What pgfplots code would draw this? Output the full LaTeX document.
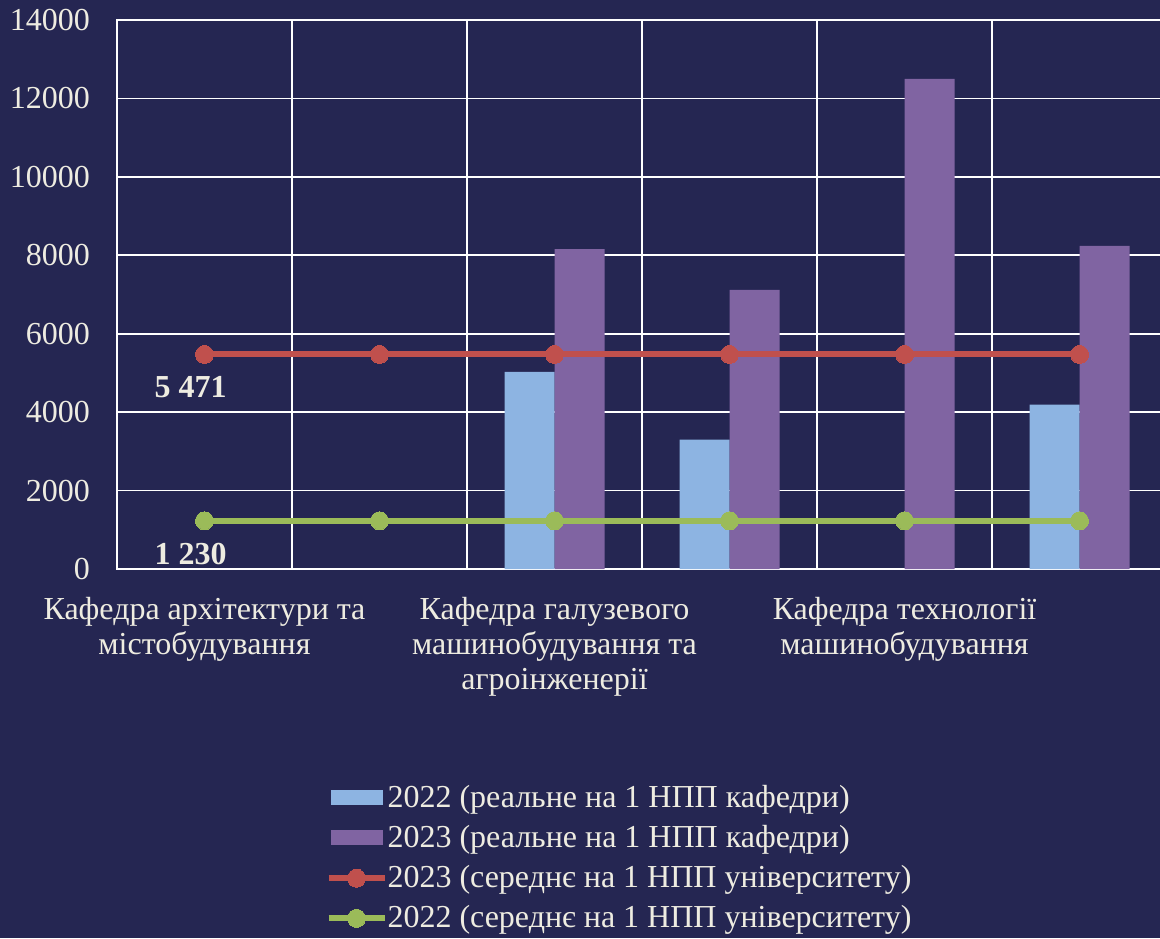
\documentclass[border=0pt]{standalone}
\usepackage{pgfplots}
\pgfplotsset{compat=1.18}
\usepackage{fontspec}
\setmainfont{Liberation Serif}
\definecolor{bg}{RGB}{37,38,82}
\definecolor{txt}{RGB}{238,236,225}
\definecolor{c22}{RGB}{141,180,226}
\definecolor{c23}{RGB}{128,100,162}
\definecolor{cred}{RGB}{192,80,77}
\definecolor{cgreen}{RGB}{155,187,89}
\pgfplotsset{
  barleg/.style={legend image code/.code={\fill[##1] (0pt,-3.75pt) rectangle (26pt,3.75pt);}},
  lineleg/.style={legend image code/.code={\draw[mark repeat=2, mark phase=2, ##1] plot coordinates {(-1pt,0pt) (13pt,0pt) (27pt,0pt)};}},
}
\begin{document}
\begin{tikzpicture}[x=1pt,y=1pt]
\fill[bg] (0,0) rectangle (580,469);
\begin{axis}[
  at={(58.5pt,184.5pt)}, anchor=south west,
  scale only axis, width=525pt, height=274.5pt,
  xmin=-0.5, xmax=5.5, ymin=0, ymax=14000,
  ytick={0,2000,...,14000},
  scaled y ticks=false,
  xtick={0,2,4},
  xticklabels={{Кафедра архітектури та\\містобудування},{Кафедра галузевого\\машинобудування та\\агроінженерії},{Кафедра технології\\машинобудування}},
  minor xtick={0.5,1.5,2.5,3.5,4.5},
  xminorgrids=true, ymajorgrids=true,
  grid style={white, line width=0.8pt},
  minor grid style={white, line width=0.8pt},
  axis line style={white, line width=0.8pt},
  major tick length=0pt, minor tick length=0pt,
  tick style={draw=none},
  ticklabel style={text=txt, font=\fontsize{16}{17.5}\selectfont},
  /pgf/number format/1000 sep={},
  /pgf/number format/assume math mode=true,
  yticklabel style={xshift=-10pt},
  xticklabel style={align=center, yshift=-10.5pt},
  legend style={draw=none, fill=none, at={(0.1925,-0.382)}, anchor=north west,
    font=\fontsize{16}{17.5}\selectfont, text=txt, row sep=5.5pt,
    nodes={inner xsep=0pt, inner ysep=1pt}},
  legend cell align=left,
]
\addplot[ybar, bar width=25pt, bar shift=-12.5pt, fill=c22, draw=none, barleg]
  coordinates {(2,5030) (3,3300) (5,4190)};
\addlegendentry{2022 (реальне на 1 НПП кафедри)}
\addplot[ybar, bar width=25pt, bar shift=12.5pt, fill=c23, draw=none, barleg]
  coordinates {(2,8160) (3,7120) (4,12500) (5,8240)};
\addlegendentry{2023 (реальне на 1 НПП кафедри)}
\addplot[cred, line width=3pt, mark=*, mark size=4.5pt, mark options={fill=cred, draw=cred, line width=0pt},
  point meta=explicit symbolic, nodes near coords,
  nodes near coords style={anchor=center, xshift=-7pt, yshift=-16.5pt, text=txt, font=\fontsize{16}{17.5}\selectfont\bfseries},
  lineleg]
  coordinates {(0,5471)[5 471] (1,5471)[] (2,5471)[] (3,5471)[] (4,5471)[] (5,5471)[]};
\addlegendentry{2023 (середнє на 1 НПП університету)}
\addplot[cgreen, line width=3pt, mark=*, mark size=4.5pt, mark options={fill=cgreen, draw=cgreen, line width=0pt},
  point meta=explicit symbolic, nodes near coords,
  nodes near coords style={anchor=center, xshift=-7pt, yshift=-16.5pt, text=txt, font=\fontsize{16}{17.5}\selectfont\bfseries},
  lineleg]
  coordinates {(0,1230)[1 230] (1,1230)[] (2,1230)[] (3,1230)[] (4,1230)[] (5,1230)[]};
\addlegendentry{2022 (середнє на 1 НПП університету)}
\end{axis}
\pgfresetboundingbox
\useasboundingbox (0,0) rectangle (580,469);
\end{tikzpicture}
\end{document}
